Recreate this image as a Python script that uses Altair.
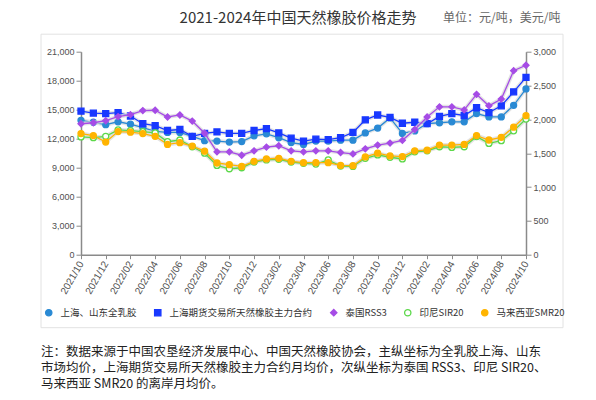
import altair as alt
import pandas as pd

months = ["2021/10", "2021/11", "2021/12", "2022/01", "2022/02", "2022/03", "2022/04",
          "2022/05", "2022/06", "2022/07", "2022/08", "2022/09", "2022/10", "2022/11",
          "2022/12", "2023/01", "2023/02", "2023/03", "2023/04", "2023/05", "2023/06",
          "2023/07", "2023/08", "2023/09", "2023/10", "2023/11", "2023/12", "2024/01",
          "2024/02", "2024/03", "2024/04", "2024/05", "2024/06", "2024/07", "2024/08",
          "2024/09", "2024/10"]
tick_months = ["2021/10", "2021/12", "2022/02", "2022/04", "2022/06", "2022/08", "2022/10",
               "2022/12", "2023/02", "2023/04", "2023/06", "2023/08", "2023/10", "2023/12",
               "2024/02", "2024/04", "2024/06", "2024/08", "2024/10"]

# primary axis (元/吨)
latex = [13900, 13700, 13450, 13750, 13500, 13150, 12750, 12650, 12650, 12250, 11800, 11750,
         11650, 11700, 12300, 12500, 12100, 11600, 11400, 11750, 11750, 11850, 11850, 12600,
         13100, 14150, 12550, 12800, 13550, 13650, 13750, 13750, 14600, 14250, 14250, 15450,
         17150]
shfe = [14850, 14650, 14600, 14700, 14350, 13550, 13350, 12850, 12950, 12250, 12550, 12700,
        12550, 12550, 12850, 13050, 12600, 12050, 11750, 11950, 11900, 12100, 12650, 13950,
        14450, 14200, 13600, 13700, 13550, 14300, 14600, 14400, 15200, 14700, 15400, 16850,
        18350]
# secondary axis (美元/吨)
rss3 = [1935, 1950, 1980, 2040, 2070, 2130, 2135, 2035, 2065, 1975, 1795, 1520,
        1520, 1470, 1535, 1590, 1610, 1535, 1520, 1535, 1535, 1510, 1490, 1565,
        1620, 1650, 1690, 1850, 2035, 2185, 2185, 2140, 2370, 2200, 2300, 2720,
        2800]
sir20 = [1740, 1730, 1750, 1845, 1835, 1820, 1800, 1670, 1695, 1595, 1500, 1320,
         1270, 1285, 1370, 1400, 1410, 1370, 1350, 1340, 1400, 1310, 1305, 1425,
         1475, 1440, 1415, 1520, 1535, 1595, 1585, 1595, 1745, 1645, 1685, 1830,
         2005]
smr20 = [1790, 1760, 1665, 1820, 1810, 1790, 1750, 1630, 1655, 1605, 1530, 1355,
         1330, 1305, 1380, 1415, 1425, 1380, 1360, 1360, 1360, 1320, 1315, 1445,
         1500, 1460, 1450, 1535, 1545, 1620, 1620, 1630, 1760, 1695, 1735, 1885,
         2055]

series_names = ["上海、山东全乳胶", "上海期货交易所天然橡胶主力合约", "泰国RSS3", "印尼SIR20", "马来西亚SMR20"]
colors = ["#2a8ad4", "#1838ff", "#a64ce6", "#5cd84a", "#ffb400"]
fills = ["#2a8ad4", "#1838ff", "#a64ce6", "#ffffff", "#ffb400"]
shapes = ["circle", "square", "diamond", "circle", "circle"]

left_ticks = [0, 3000, 6000, 9000, 12000, 15000, 18000, 21000]
right_ticks = [0, 500, 1000, 1500, 2000, 2500, 3000]

title_text = "2021-2024年中国天然橡胶价格走势"
unit_text = "单位：元/吨，美元/吨"
note_lines = ["注：数据来源于中国农垦经济发展中心、中国天然橡胶协会，主纵坐标为全乳胶上海、山东",
              "市场均价，上海期货交易所天然橡胶主力合约月均价，次纵坐标为泰国 RSS3、印尼 SIR20、",
              "马来西亚 SMR20 的离岸月均价。"]


def long_df(pairs):
    rows = []
    for name, vals in pairs:
        for m, v in zip(months, vals):
            rows.append({"month": m, "series": name, "value": v})
    return pd.DataFrame(rows)


left_df = long_df([(series_names[0], latex), (series_names[1], shfe)])
right_df = long_df([(series_names[2], rss3), (series_names[3], sir20), (series_names[4], smr20)])

FONT_CJK = "Noto Sans CJK SC"
AX_FONT = "Liberation Sans"

x_enc = alt.X("month:O", title=None,
              scale=alt.Scale(type="point", padding=0, domain=months),
              axis=alt.Axis(values=tick_months, labelAngle=-60, labelAlign="right",
                            labelBaseline="middle", labelFontSize=10, labelFont=AX_FONT,
                            labelColor="#505050", domainColor="#8a8a8a", domainWidth=1.5,
                            tickColor="#8a8a8a", tickSize=4, labelPadding=3, grid=False))

legend_def = alt.Legend(title=None, orient="none", legendX=-37, legendY=256,
                        direction="horizontal", labelFontSize=9.5, labelFont=FONT_CJK,
                        labelColor="#333333", symbolSize=40, symbolStrokeWidth=1.3,
                        columnPadding=14, labelOffset=7)

color_scale = alt.Scale(domain=series_names, range=colors)
fill_scale = alt.Scale(domain=series_names, range=fills)
shape_scale = alt.Scale(domain=series_names, range=shapes)

axis_common = dict(title=None, grid=False, format=",d", labelFontSize=9, labelFont=AX_FONT,
                   labelColor="#505050", domainColor="#8a8a8a", domainWidth=1.5,
                   tickColor="#8a8a8a", tickSize=5, labelPadding=2)


def yenc(domain, axis):
    return alt.Y("value:Q", scale=alt.Scale(domain=domain, nice=False), axis=axis)


def group(df, names, domain, axis):
    base = alt.Chart(df)
    layers = [base.mark_line(strokeWidth=4, color="#d9d9d9", opacity=0.7).encode(
        x=x_enc, y=yenc(domain, None), detail="series:N")]
    for name in names:
        c = colors[series_names.index(name)]
        layers.append(base.transform_filter(alt.datum.series == name).mark_line(
            strokeWidth=1.3, color=c).encode(x=x_enc, y=yenc(domain, None)))
    layers.append(base.mark_point(filled=False, opacity=1, size=36, strokeWidth=1.3).encode(
        x=x_enc, y=yenc(domain, axis),
        color=alt.Color("series:N", scale=color_scale, legend=legend_def),
        fill=alt.Fill("series:N", scale=fill_scale, legend=legend_def),
        shape=alt.Shape("series:N", scale=shape_scale, legend=legend_def)))
    return layers


left_layers = group(left_df, series_names[:2], [0, 21000],
                    alt.Axis(orient="left", values=left_ticks, **axis_common))
right_layers = group(right_df, series_names[2:], [0, 3000],
                     alt.Axis(orient="right", values=right_ticks, **axis_common))

frame = alt.Chart(pd.DataFrame({"k": [1]})).mark_rect(
    fill="transparent", stroke="#e2e2e2", strokeWidth=1).encode(
    x=alt.value(-40), x2=alt.value(482), y=alt.value(-17.5), y2=alt.value(276))

title = alt.Chart(pd.DataFrame({"t": [title_text]})).mark_text(
    font=FONT_CJK, fontSize=15, color="#333333", align="center", baseline="middle").encode(
    text="t:N", x=alt.value(217), y=alt.value(-33.5))

unit = alt.Chart(pd.DataFrame({"t": [unit_text]})).mark_text(
    font=FONT_CJK, fontSize=12, color="#666666", align="left", baseline="middle").encode(
    text="t:N", x=alt.value(362), y=alt.value(-33.5))

note = alt.Chart(pd.DataFrame({"t": ["\n".join(note_lines)]})).mark_text(
    font=FONT_CJK, fontSize=12.5, color="#222222", align="left", baseline="middle",
    lineBreak="\n", lineHeight=16).encode(
    text="t:N", x=alt.value(-40), y=alt.value(300))

chart = alt.layer(frame, *left_layers, *right_layers, title, unit, note).resolve_scale(
    y="independent"
).properties(
    width=445, height=203,
    autosize=alt.AutoSizeParams(type="none"),
    padding={"left": 73, "top": 43.7, "right": 62, "bottom": 137.3},
    background="white",
).configure_view(stroke=None)

chart.save("out.html", embed_options={"renderer": "svg", "actions": False})
